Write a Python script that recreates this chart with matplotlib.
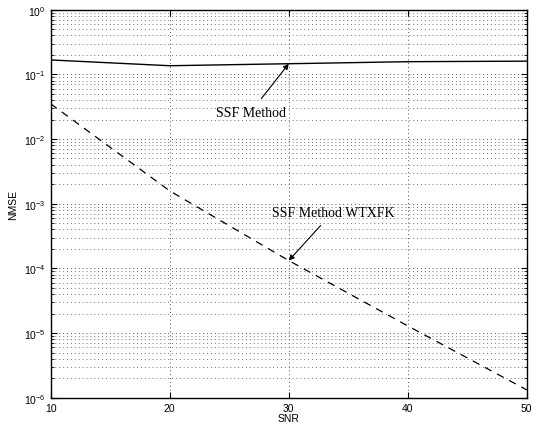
import numpy as np
import matplotlib.pyplot as plt
from matplotlib.ticker import LogLocator, NullFormatter

# Data
snr = [10, 20, 30, 40, 50]
nmse_ssf = [0.167, 0.136, 0.146, 0.157, 0.160]
nmse_wtxfk = [3.5e-2, 1.58e-3, 1.32e-4, 1.29e-5, 1.32e-6]

fig = plt.figure(figsize=(5.37, 4.31), dpi=100)
ax = fig.add_axes([0.0944, 0.0749, 0.8866, 0.9003])

ax.semilogy(snr, nmse_ssf, color='black', linewidth=1.0, linestyle='-')
ax.semilogy(snr, nmse_wtxfk, color='black', linewidth=0.9, linestyle=(0, (6, 5)))

ax.set_xlim(10, 50)
ax.set_ylim(1e-6, 1)
ax.set_xticks([10, 20, 30, 40, 50])
ax.yaxis.set_major_locator(LogLocator(base=10, numticks=10))
ax.yaxis.set_minor_locator(LogLocator(base=10, subs=np.arange(2, 10), numticks=100))
ax.yaxis.set_minor_formatter(NullFormatter())

ax.grid(True, which='major', axis='both', linestyle=(0, (1, 3)), color='0.3', linewidth=0.7)
ax.grid(True, which='minor', axis='y', linestyle=(0, (1, 3)), color='0.45', linewidth=0.7)

ax.tick_params(which='both', direction='in', top=True, right=True,
               labelsize=7.5, length=4)
ax.tick_params(which='minor', length=2)
for lab in ax.get_xticklabels() + ax.get_yticklabels():
    lab.set_family('Liberation Sans')
for s in ax.spines.values():
    s.set_linewidth(1.0)

ax.set_xlabel('SNR', fontsize=7.5, family='Liberation Sans', labelpad=0)
ax.set_ylabel('NMSE', fontsize=7.5, family='Liberation Sans', labelpad=4)

ax.annotate('SSF Method', xy=(30, nmse_ssf[2]), xytext=(26.8, 0.026),
            fontsize=10, family='Liberation Serif', ha='center', va='center',
            arrowprops=dict(arrowstyle='-|>', color='black', lw=0.8,
                            mutation_scale=8, shrinkA=4, shrinkB=0))
ax.annotate('SSF Method WTXFK', xy=(30, nmse_wtxfk[2]), xytext=(33.7, 7.4e-4),
            fontsize=10, family='Liberation Serif', ha='center', va='center',
            arrowprops=dict(arrowstyle='-|>', color='black', lw=0.8,
                            mutation_scale=8, shrinkA=4, shrinkB=0))

fig.savefig('out.png', dpi=100)
